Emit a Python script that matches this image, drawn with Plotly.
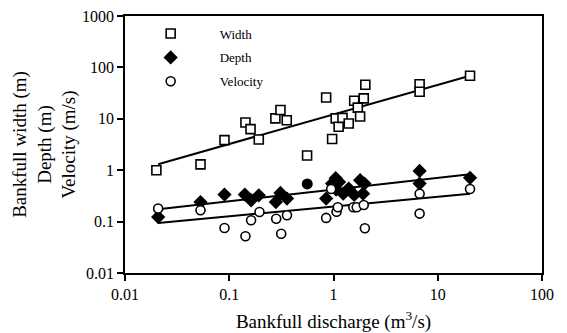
import plotly.graph_objects as go

# ---- data ----
width_q = [0.02, 0.053, 0.09, 0.143, 0.16, 0.192, 0.277, 0.31, 0.356, 0.558,
           0.85, 0.97, 1.05, 1.12, 1.22, 1.4, 1.58, 1.71, 1.8, 1.95, 2.02,
           6.7, 6.7, 20.4]
width_m = [1.0, 1.3, 3.85, 8.5, 6.3, 3.95, 10.2, 14.8, 9.4, 1.93,
           26, 4.05, 10.2, 7.0, 10.4, 8.1, 22.5, 16.5, 11.1, 25, 46,
           47, 33.6, 69]

depth_q = [0.0208, 0.053, 0.09, 0.141, 0.162, 0.192, 0.28, 0.31, 0.358, 0.56,
           0.85, 0.97, 1.05, 1.13, 1.06, 1.24, 1.40, 1.58, 1.80, 1.98, 1.92,
           6.7, 6.7, 20.4]
depth_m = [0.123, 0.24, 0.335, 0.335, 0.26, 0.325, 0.24, 0.36, 0.28, 0.54,
           0.28, 0.55, 0.70, 0.59, 0.42, 0.35, 0.44, 0.33, 0.64, 0.55, 0.35,
           0.97, 0.55, 0.71]

vel_q = [0.0208, 0.053, 0.09, 0.143, 0.162, 0.195, 0.282, 0.315, 0.358, 0.85,
         0.95, 1.07, 1.10, 1.55, 1.67, 1.95, 2.0, 6.7, 6.7, 20.4]
vel_ms = [0.18, 0.166, 0.075, 0.052, 0.106, 0.154, 0.114, 0.058, 0.133, 0.118,
          0.43, 0.155, 0.19, 0.19, 0.19, 0.21, 0.074, 0.35, 0.143, 0.43]

# fitted power-law lines (end points)
fit_q = [0.0208, 20.4]
width_fit = [1.31, 69]
depth_fit = [0.174, 0.836]
vel_fit = [0.094, 0.35]

x_ticks = [0.01, 0.1, 1, 10, 100]
x_tick_text = ["0.01", "0.1", "1", "10", "100"]
y_ticks = [0.01, 0.1, 1, 10, 100, 1000]
y_tick_text = ["0.01", "0.1", "1", "10", "100", "1000"]

FONT = "Liberation Serif, Times New Roman, serif"

fig = go.Figure()

for yfit in (width_fit, depth_fit, vel_fit):
    fig.add_trace(go.Scatter(x=fit_q, y=yfit, mode="lines",
                             line=dict(color="black", width=2),
                             showlegend=False, hoverinfo="skip"))

fig.add_trace(go.Scatter(
    x=width_q, y=width_m, mode="markers", name="Width", legendgroup="w",
    marker=dict(symbol="square", size=9, color="white", opacity=1,
                line=dict(color="black", width=1.6))))

depth_symbols = ["diamond"] * len(depth_q)
depth_symbols[9] = "circle"
fig.add_trace(go.Scatter(
    x=depth_q, y=depth_m, mode="markers", name="Depth", legendgroup="d",
    marker=dict(symbol=depth_symbols, size=11, color="black", opacity=1,
                line=dict(color="black", width=0))))

fig.add_trace(go.Scatter(
    x=vel_q, y=vel_ms, mode="markers", name="Velocity", legendgroup="v",
    marker=dict(symbol="circle", size=9, color="white", opacity=1,
                line=dict(color="black", width=1.6))))

fig.update_layout(
    width=567, height=333,
    margin=dict(l=125, r=25, t=16, b=60),
    paper_bgcolor="white", plot_bgcolor="white",
    font=dict(family=FONT, color="black", size=16),
    legend=dict(x=-0.008, y=0.99, xanchor="left", yanchor="top",
                bgcolor="rgba(0,0,0,0)", font=dict(size=13, family=FONT, color="black"),
                itemwidth=88, tracegroupgap=4, traceorder="grouped"),
)

fig.update_xaxes(type="log", range=[-2, 2], tickvals=x_ticks,
                 ticktext=x_tick_text, ticks="outside", ticklen=6,
                 tickwidth=1.5, tickcolor="black", showline=True,
                 linecolor="black", linewidth=1.5, mirror=True,
                 showgrid=False, zeroline=False, automargin=False,
                 tickfont=dict(size=16, color="black"),
                 title=dict(text="Bankfull discharge (m<sup>3</sup>/s)",
                            font=dict(size=19, color="black"), standoff=16))

fig.update_yaxes(type="log", range=[-2, 3], tickvals=y_ticks,
                 ticktext=y_tick_text, ticks="outside", ticklen=6,
                 tickwidth=1.5, tickcolor="black", showline=True,
                 linecolor="black", linewidth=1.5, mirror=True,
                 showgrid=False, zeroline=False, automargin=False,
                 tickfont=dict(size=16, color="black"),
                 title=dict(text="Bankfull width (m)<br>Depth (m)<br>Velocity (m/s)",
                            font=dict(size=19, color="black"), standoff=1))

fig.write_html("out.html")
